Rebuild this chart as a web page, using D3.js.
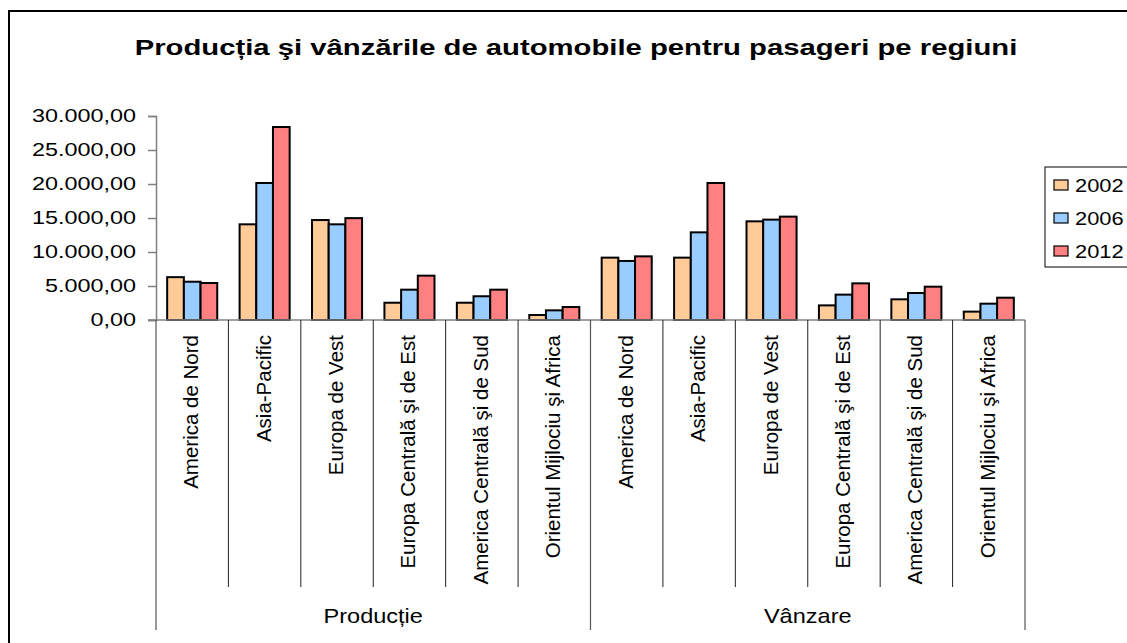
<!DOCTYPE html>
<html>
<head>
<meta charset="utf-8">
<script src="https://cdn.jsdelivr.net/npm/d3@7"></script>
<style>
  body { margin: 0; background: #fff; }
  text { font-family: "Liberation Sans", Arial, sans-serif; fill: #000; }
</style>
</head>
<body>
<div id="chart"></div>
<script>
// Data
var groups          = ['Producție', 'Vânzare'];
var categories      = ['America de Nord', 'Asia-Pacific', 'Europa de Vest',
                       'Europa Centrală şi de Est', 'America Centrală şi de Sud',
                       'Orientul Mijlociu şi Africa'];
var years           = ['2002', '2006', '2012'];
var production2002  = [6300, 14070, 14700, 2540, 2540, 735];
var production2006  = [5630, 20150, 14070, 4460, 3490, 1420];
var production2012  = [5440, 28380, 14980, 6520, 4460, 1910];
var sales2002       = [9170, 9170, 14510, 2150, 3040, 1230];
var sales2006       = [8680, 12890, 14760, 3730, 3970, 2400];
var sales2012       = [9360, 20150, 15200, 5390, 4900, 3280];
var yTicks          = [0, 5000, 10000, 15000, 20000, 25000, 30000];
var colors          = ['#FFCC99', '#99CCFF', '#FF8080'];
var title_text      = 'Producția şi vânzările de automobile pentru pasageri pe regiuni';

// Width and height
var chart_width     = 1127;
var chart_height    = 643;
var plot_left       = 156;
var plot_right      = 1025;
var plot_top        = 116;
var plot_bottom     = 320;

var series = {
    'Producție': [production2002, production2006, production2012],
    'Vânzare':   [sales2002, sales2006, sales2012]
};

var rows = [];
groups.forEach(function(g){
    categories.forEach(function(c, ci){
        rows.push({
            key: g + '|' + c,
            group: g,
            cat: c,
            values: years.map(function(yr, yi){ return { year: yr, value: series[g][yi][ci] }; })
        });
    });
});

var ro = d3.formatLocale({ decimal: ',', thousands: '.', grouping: [3], currency: ['', ''] });
var fmt = ro.format(',.2f');

// Stretch text horizontally like the original rendering
function stretch(sel, factor){
    sel.each(function(){
        var w = this.getComputedTextLength();
        d3.select(this)
            .attr('textLength', w * factor)
            .attr('lengthAdjust', 'spacingAndGlyphs');
    });
}

var svg = d3.select('#chart')
    .append('svg')
    .attr('width', chart_width)
    .attr('height', chart_height);

svg.append('rect')
    .attr('x', 9)
    .attr('y', 11)
    .attr('width', 1150)
    .attr('height', 660)
    .attr('fill', '#fff')
    .attr('stroke', '#000')
    .attr('stroke-width', 2);

// Scales
var y = d3.scaleLinear()
    .domain([0, 30000])
    .range([plot_bottom, plot_top]);

var x0 = d3.scaleBand()
    .domain(rows.map(function(d){ return d.key; }))
    .range([plot_left, plot_right]);

var x1 = d3.scaleBand()
    .domain(years)
    .range([0, x0.bandwidth()])
    .paddingOuter(0.67);

var color = d3.scaleOrdinal()
    .domain(years)
    .range(colors);

// Title
var title = svg.append('text')
    .text(title_text)
    .attr('x', 576)
    .attr('y', 55)
    .attr('text-anchor', 'middle')
    .attr('font-size', 22.5)
    .attr('font-weight', 'bold');
stretch(title, 1.3);

// Y axis
var yAxis = svg.append('g')
    .attr('transform', 'translate(' + plot_left + ',0)')
    .call(d3.axisLeft(y).tickValues(yTicks).tickFormat(fmt).tickSize(8).tickPadding(12));
yAxis.select('.domain').attr('stroke', '#808080').attr('stroke-width', 1.5);
yAxis.selectAll('.tick line').attr('stroke', '#808080').attr('stroke-width', 1.5);
yAxis.selectAll('.tick text')
    .attr('font-size', 18)
    .attr('font-family', '"Liberation Sans", Arial, sans-serif')
    .attr('fill', '#000')
    .call(stretch, 1.3);

// Bars
var cat_g = svg.append('g').selectAll('g')
    .data(rows)
    .enter()
    .append('g')
    .attr('transform', function(d){ return 'translate(' + x0(d.key) + ',0)'; });

cat_g.selectAll('rect')
    .data(function(d){ return d.values; })
    .enter()
    .append('rect')
    .attr('x', function(d){ return x1(d.year); })
    .attr('y', function(d){ return y(d.value); })
    .attr('width', x1.bandwidth())
    .attr('height', function(d){ return y(0) - y(d.value); })
    .attr('fill', function(d){ return color(d.year); })
    .attr('stroke', '#000')
    .attr('stroke-width', 2);

// X axis baseline
svg.append('line')
    .attr('x1', plot_left - 8)
    .attr('x2', plot_right)
    .attr('y1', y(0))
    .attr('y2', y(0))
    .attr('stroke', '#808080')
    .attr('stroke-width', 1.5);

// Category dividers
var keys = x0.domain();
keys.forEach(function(k, i){
    if(i === 0 || i === categories.length){ return; }
    svg.append('line')
        .attr('x1', x0(k)).attr('x2', x0(k))
        .attr('y1', y(0)).attr('y2', 587)
        .attr('stroke', '#222')
        .attr('stroke-width', 1);
});

// Group dividers
var group_edges = [plot_left, x0(keys[categories.length]), plot_right];
group_edges.forEach(function(gx){
    svg.append('line')
        .attr('x1', gx).attr('x2', gx)
        .attr('y1', y(0)).attr('y2', 630)
        .attr('stroke', '#555')
        .attr('stroke-width', 1.2);
});

// Category labels
cat_g.append('text')
    .attr('transform', function(){
        return 'translate(' + (x0.bandwidth() / 2 + 6) + ',335) rotate(-90)';
    })
    .attr('text-anchor', 'end')
    .attr('font-size', 20.5)
    .text(function(d){ return d.cat; });

// Group labels
groups.forEach(function(g, gi){
    var gl = svg.append('text')
        .attr('x', (group_edges[gi] + group_edges[gi + 1]) / 2)
        .attr('y', 623)
        .attr('text-anchor', 'middle')
        .attr('font-size', 21)
        .text(g);
    stretch(gl, 1.12);
});

// Legend
var legend = svg.append('g')
    .attr('transform', 'translate(1045,167)');

legend.append('rect')
    .attr('x', 0)
    .attr('y', 0)
    .attr('width', 120)
    .attr('height', 100)
    .attr('fill', '#fff')
    .attr('stroke', '#000')
    .attr('stroke-width', 1);

var items = legend.selectAll('g.item')
    .data(years)
    .enter()
    .append('g')
    .attr('class', 'item')
    .attr('transform', function(d, i){ return 'translate(0,' + (18 + i * 33) + ')'; });

items.append('rect')
    .attr('x', 9)
    .attr('y', -5)
    .attr('width', 14)
    .attr('height', 10)
    .attr('fill', function(d){ return color(d); })
    .attr('stroke', '#000')
    .attr('stroke-width', 1.2);

items.append('text')
    .attr('x', 30)
    .attr('y', 7)
    .attr('font-size', 19)
    .text(function(d){ return d; })
    .call(stretch, 1.15);
</script>
</body>
</html>
